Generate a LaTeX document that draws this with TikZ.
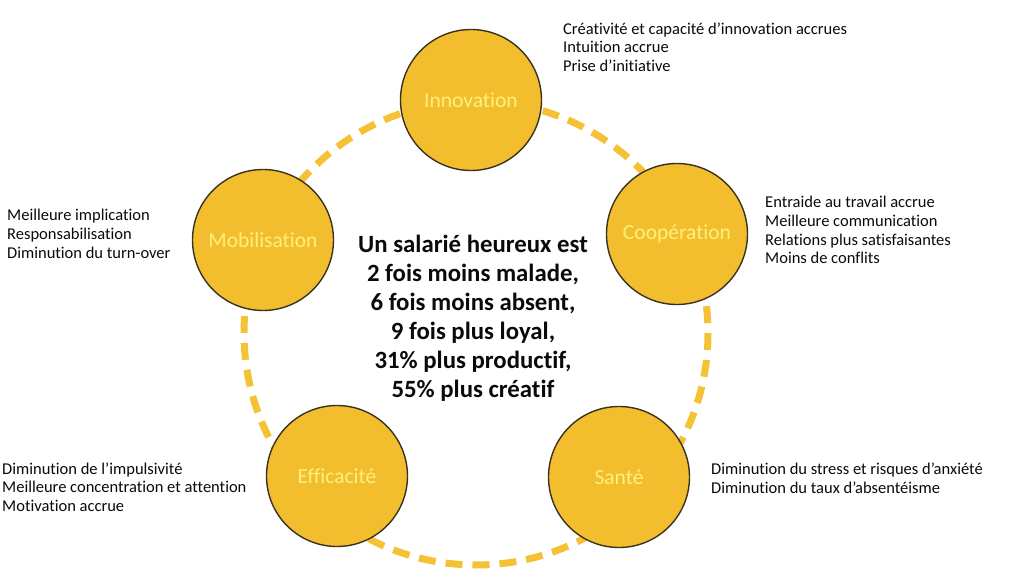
\documentclass[tikz,border=0pt]{standalone}
\usepackage{fontspec}
\setmainfont{Carlito}[Ligatures=NoCommon]
\definecolor{gold}{HTML}{F3BE2E}
\definecolor{dashgold}{HTML}{F4C234}
\definecolor{rim}{HTML}{3A3120}
\definecolor{paleyellow}{HTML}{FFF07E}
\definecolor{ink}{HTML}{0A0A0A}
\begin{document}
\begin{tikzpicture}[x=1pt,y=-1pt,
  bubble/.style={circle,draw=rim,line width=1.4pt,fill=gold,minimum size=141pt,inner sep=0pt,
     text=paleyellow,font=\fontsize{21.5}{24}\selectfont},
  note/.style={anchor=west,align=left,inner sep=0pt,text=ink,font=\fontsize{16.5}{18.7}\selectfont},
  ring/.style={draw=dashgold,line width=7pt,dash pattern=on 17pt off 10pt}]
\useasboundingbox (0,0) rectangle (1010,578);
\coordinate (ctr) at (476,333);
\draw[ring] (ctr) circle[radius=232];
\node[bubble] (inno) at (471,100) {Innovation};
\node[bubble] (coop) at (677,234) {Coopération};
\node[bubble] (sante) at (619,477) {Santé};
\node[bubble] (effi) at (337,476) {Efficacité};
\node[bubble] (mobi) at (263,240) {Mobilisation};
\node[align=center,inner sep=0pt,text=ink,font=\bfseries\fontsize{24.8}{28.9}\selectfont] (main) at (473,318)
  {Un salarié heureux est\\2 fois moins malade,\\6 fois moins absent,\\9 fois plus loyal,\\31\% plus productif,\\55\% plus créatif};
\node[note] (tinno) at (563,47) {Créativité et capacité d’innovation accrues\\Intuition accrue\\Prise d’initiative};
\node[note] (tcoop) at (765,230) {Entraide au travail accrue\\Meilleure communication\\Relations plus satisfaisantes\\Moins de conflits};
\node[note] (tsante) at (711,478) {Diminution du stress et risques d’anxiété\\Diminution du taux d’absentéisme};
\node[note] (tmobi) at (7,234) {Meilleure implication\\Responsabilisation\\Diminution du turn-over};
\node[note] (teffi) at (2,487) {Diminution de l’impulsivité\\Meilleure concentration et attention\\Motivation accrue};
\end{tikzpicture}
\end{document}
